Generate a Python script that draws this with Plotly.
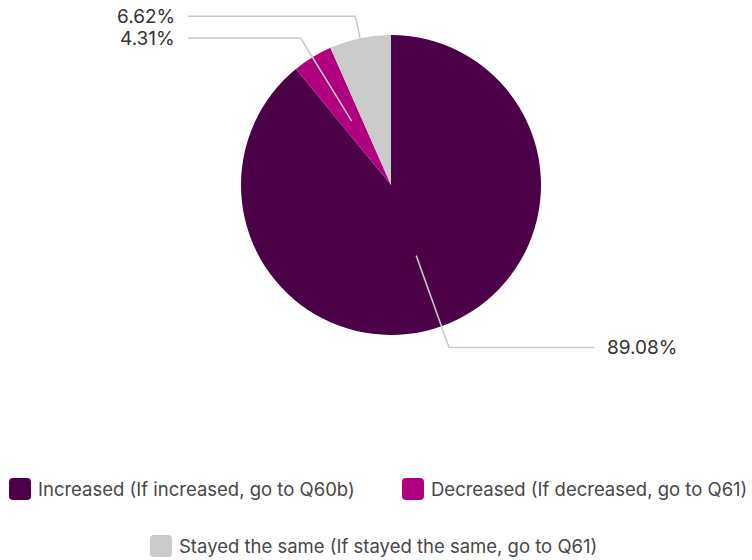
import math
import plotly.graph_objects as go

# ---- data -------------------------------------------------------------
categories = [
    "Increased (If increased, go to Q60b)",
    "Decreased (If decreased, go to Q61)",
    "Stayed the same (If stayed the same, go to Q61)",
]
values = [89.08, 4.31, 6.62]
slice_colors = ["#4b0047", "#b1007f", "#cbcbcb"]

# ---- geometry (pixels) ------------------------------------------------
W, H = 752, 560
CX, CY, R = 391, 185, 150          # pie centre and radius
LEADER_IN, LEADER_OUT = 0.5, 1.15  # leader line start / elbow (fraction of R)
LEADER_REACH = 203                 # horizontal distance from centre to line end
LABEL_GAP = 11
FONT = "Inter, Roboto, 'Open Sans', sans-serif"
TEXT_COLOR = "#333333"
LINE_COLOR = "#c9c9c9"


def px(x):
    return x / W


def py(y):
    return 1 - y / H


fig = go.Figure()
fig.add_trace(go.Pie(
    labels=categories,
    values=values,
    sort=False,
    direction="clockwise",
    rotation=0,
    marker=dict(colors=slice_colors, line=dict(width=0)),
    textinfo="none",
    hoverinfo="label+percent",
    showlegend=False,
    domain=dict(x=[px(CX - R), px(CX + R)], y=[py(CY + R), py(CY - R)]),
))

shapes = []
annotations = []

# leader lines + percentage labels, placed from each slice's mid angle
total = sum(values)
cum = 0.0
for val in values:
    mid = (cum + val / 2) / total * 2 * math.pi
    cum += val
    sx, sy = math.sin(mid), -math.cos(mid)
    x0, y0 = CX + sx * R * LEADER_IN, CY + sy * R * LEADER_IN
    x1, y1 = CX + sx * R * LEADER_OUT, CY + sy * R * LEADER_OUT
    side = 1 if sx >= 0 else -1
    x2 = CX + side * LEADER_REACH
    shapes.append(dict(
        type="path", xref="paper", yref="paper",
        path=f"M {px(x0)},{py(y0)} L {px(x1)},{py(y1)} L {px(x2)},{py(y1)}",
        line=dict(color=LINE_COLOR, width=1.5),
    ))
    annotations.append(dict(
        x=px(x2 + side * LABEL_GAP), y=py(y1), xref="paper", yref="paper",
        text=f"{val:.2f}%", showarrow=False,
        xanchor="left" if side > 0 else "right", yanchor="middle",
        font=dict(family=FONT, size=19, color=TEXT_COLOR),
    ))

# legend: rounded swatches with labels, two rows
legend_slots = [(9, 489), (402, 489), (150, 546)]
SW, RAD = 22, 4
for (lx, ly), name, col in zip(legend_slots, categories, slice_colors):
    x0, x1 = lx, lx + SW
    y0, y1 = ly - SW / 2, ly + SW / 2
    path = (
        f"M {px(x0 + RAD)},{py(y0)} L {px(x1 - RAD)},{py(y0)} "
        f"Q {px(x1)},{py(y0)} {px(x1)},{py(y0 + RAD)} "
        f"L {px(x1)},{py(y1 - RAD)} Q {px(x1)},{py(y1)} {px(x1 - RAD)},{py(y1)} "
        f"L {px(x0 + RAD)},{py(y1)} Q {px(x0)},{py(y1)} {px(x0)},{py(y1 - RAD)} "
        f"L {px(x0)},{py(y0 + RAD)} Q {px(x0)},{py(y0)} {px(x0 + RAD)},{py(y0)} Z"
    )
    shapes.append(dict(type="path", xref="paper", yref="paper", path=path,
                       fillcolor=col, line=dict(width=0)))
    annotations.append(dict(
        x=px(x1 + 5), y=py(ly), xref="paper", yref="paper",
        text=name, showarrow=False, xanchor="left", yanchor="middle",
        font=dict(family=FONT, size=18.5, color="#474747"),
    ))

fig.update_layout(
    width=W, height=H,
    margin=dict(l=0, r=0, t=0, b=0),
    paper_bgcolor="white",
    plot_bgcolor="white",
    shapes=shapes,
    annotations=annotations,
)

fig.write_html("out.html")
